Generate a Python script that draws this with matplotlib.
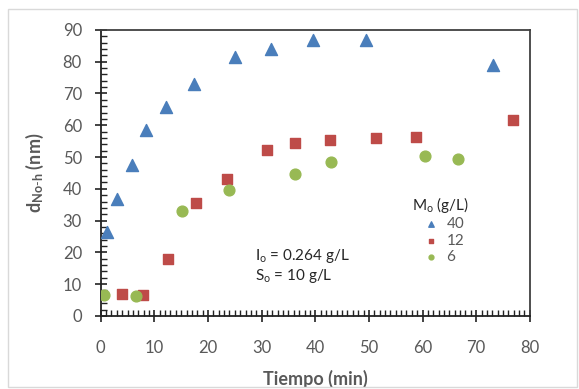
import numpy as np
import matplotlib.pyplot as plt
from matplotlib.patches import Rectangle
from matplotlib.ticker import MultipleLocator

# DATA ########################################################################

t_40 = [1.1, 3.1, 5.9, 8.4, 12.1, 17.4, 25.0, 31.7, 39.5, 49.5, 73.1]
d_40 = [26.5, 36.8, 47.5, 58.5, 65.9, 72.9, 81.5, 83.9, 86.8, 86.8, 79.1]

t_12 = [4.0, 7.8, 12.5, 17.7, 23.6, 31.0, 36.3, 42.7, 51.4, 58.8, 76.8]
d_12 = [7.0, 6.6, 17.8, 35.4, 43.1, 52.3, 54.3, 55.3, 55.9, 56.4, 61.6]

t_6 = [0.6, 6.6, 15.1, 24.0, 36.3, 43.0, 60.5, 66.7]
d_6 = [6.6, 6.2, 32.9, 39.7, 44.7, 48.5, 50.3, 49.3]

series_labels = ['40', '12', '6']
x_ticks = list(range(0, 81, 10))
y_ticks = list(range(0, 91, 10))

# STYLE #######################################################################

plt.rcParams['font.family'] = ['Lato', 'DejaVu Sans']
plt.rcParams['mathtext.fontset'] = 'custom'
plt.rcParams['mathtext.rm'] = 'Lato'
plt.rcParams['mathtext.it'] = 'Lato:italic'
plt.rcParams['mathtext.bf'] = 'Lato:bold'

gray = '#595959'
blue = '#4A7EBB'
red = '#BE4B48'
green = '#98B954'

# PLOT ########################################################################

fig = plt.figure(figsize=(5.79, 3.89), dpi=100)
ax = fig.add_axes([0.174, 0.188, 0.741, 0.735])

fig.patches.append(Rectangle((0.014, 0.005), 0.982, 0.972, transform=fig.transFigure,
                             fill=False, edgecolor='#D9D9D9', linewidth=1.0))

ax.scatter(t_40, d_40, marker='^', s=75, color=blue, label=series_labels[0], zorder=3)
ax.scatter(t_12, d_12, marker='s', s=60, color=red, label=series_labels[1], zorder=3)
ax.scatter(t_6, d_6, marker='o', s=60, color=green, label=series_labels[2], zorder=3)

ax.set_xlim(0, 80)
ax.set_ylim(0, 90)
ax.set_xticks(x_ticks)
ax.set_yticks(y_ticks)
ax.xaxis.set_minor_locator(MultipleLocator(1))
ax.yaxis.set_minor_locator(MultipleLocator(2))
ax.tick_params(which='major', direction='inout', length=9, width=1.2, color='#222222',
               labelsize=12, labelcolor=gray)
ax.tick_params(which='minor', direction='in', length=4, width=1.0, color='#222222')
ax.tick_params(axis='x', pad=13)
ax.tick_params(axis='y', pad=9)

for side in ['left', 'bottom']:
    ax.spines[side].set_linewidth(1.3)
    ax.spines[side].set_color('#222222')
for side in ['top', 'right']:
    ax.spines[side].set_linewidth(1.3)
    ax.spines[side].set_color('#404040')

ax.set_xlabel('Tiempo (min)', fontsize=13, fontweight='bold', color=gray, labelpad=10)
ax.set_ylabel(r'd$_\mathbf{No\text{-}h}$ (nm)', fontsize=13, fontweight='bold', color=gray,
              labelpad=12)

ax.text(0.36, 0.21, r'I$_\mathrm{o}$ = 0.264 g/L', transform=ax.transAxes, fontsize=11,
        color='#262626', va='center')
ax.text(0.36, 0.14, r'S$_\mathrm{o}$ = 10 g/L', transform=ax.transAxes, fontsize=11,
        color='#262626', va='center')

leg = ax.legend(title=r'M$_\mathrm{o}$ (g/L)', loc='upper left',
                bbox_to_anchor=(0.70, 0.46), frameon=False, fontsize=11,
                title_fontsize=11, markerscale=0.45, handletextpad=0.0,
                labelspacing=0.15, borderpad=0.2)
for txt in leg.get_texts():
    txt.set_color(gray)
leg.get_title().set_color('#262626')

# SAVE ########################################################################

plt.savefig('out.png', dpi=100)
